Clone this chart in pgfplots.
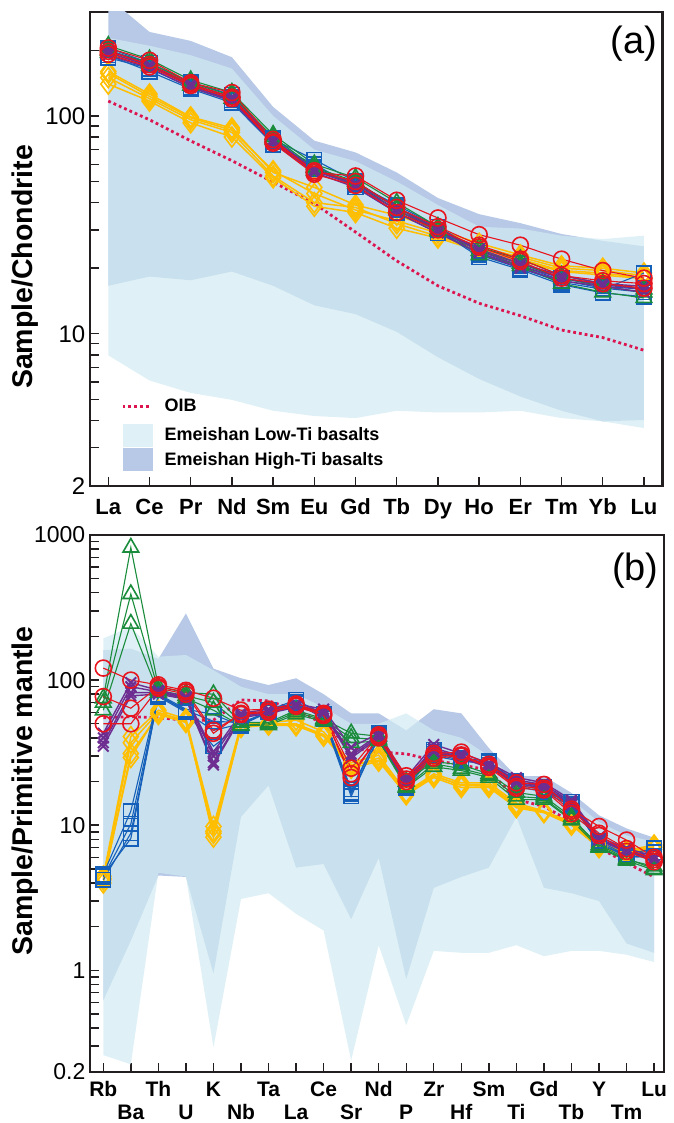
\documentclass[border=0pt]{standalone}
\usepackage{pgfplots}
\pgfplotsset{compat=1.18}
\usepackage{fontspec}
\setmainfont{Liberation Sans}
\definecolor{cblue}{RGB}{20,95,185}
\definecolor{cgreen}{RGB}{26,140,60}
\definecolor{cred}{RGB}{232,20,30}
\definecolor{cpurple}{RGB}{110,45,145}
\definecolor{cyellow}{RGB}{255,190,0}
\definecolor{coib}{RGB}{220,20,80}
\definecolor{hiTi}{RGB}{183,201,230}
\definecolor{loTi}{RGB}{209,235,242}
\definecolor{axcol}{RGB}{35,31,32}
\tikzset{
  sb/.style={cblue, mark=square, mark size=7.3pt, line width=1.1pt, mark options={solid, line width=1.6pt}},
  sg/.style={cgreen, mark=triangle, mark size=9pt, line width=1.1pt, mark options={solid, line width=1.6pt}},
  sr/.style={cred, mark=o, mark size=8pt, line width=1.1pt, mark options={solid, line width=1.6pt}},
  sp/.style={cpurple, mark=x, mark size=7.5pt, line width=1.4pt, mark options={solid, line width=2pt}},
  sy/.style={cyellow, mark=diamond, mark size=10pt, line width=1.5pt, mark options={solid, line width=1.6pt}},
  oibline/.style={coib, line width=2.8pt, dash pattern=on 2.8pt off 3pt, mark=none},
  hiT/.style={draw=none, fill=hiTi},
  loT/.style={draw=none, fill=loTi, fill opacity=0.7}
}
\begin{document}
\begin{tikzpicture}
\path[use as bounding box] (0pt,0pt) rectangle (673pt,-1123pt);
% ---------------- panel (a) ----------------
\begin{axis}[ymode=log, scale only axis, tick align=inside, xtick pos=bottom, ytick pos=left,
  axis line style={line width=2.2pt, axcol}, tick style={line width=1.4pt, axcol},
  major tick length=9pt, minor tick length=9pt,
  yticklabel style={font=\fontsize{24}{24}\selectfont, inner sep=0pt, xshift=-4.5pt},
  at={(90pt,-486pt)}, anchor=south west, width=572.5pt, height=474pt,
  xmin=-0.444, xmax=13.45, ymin=2, ymax=300,
  xtick={0,...,13}, xticklabels={La,Ce,Pr,Nd,Sm,Eu,Gd,Tb,Dy,Ho,Er,Tm,Yb,Lu},
  xticklabel style={font=\bfseries\fontsize{22}{22}\selectfont, inner sep=0pt, text height=15.8pt, text depth=0pt, anchor=north, yshift=-12pt},
  ytick={2,10,100}, yticklabels={2,10,100},
  minor ytick={3,4,5,6,7,8,9,20,30,40,50,60,70,80,90,200,300},
  legend style={at={(axis description cs:0.0541,0.2025)}, anchor=north west, draw=none, fill=none,
    inner sep=0pt, row sep=1.5pt, column sep=11.5pt, nodes={inner sep=0pt},
    font=\bfseries\fontsize{18}{18}\selectfont, cells={anchor=west}},
  legend cell align=left]
\addlegendimage{legend image code/.code={\draw[draw=coib, line width=2.8pt, dash pattern=on 2.8pt off 3pt] (0pt,0pt) -- (28pt,0pt); \path[draw=none, fill=none] (0pt,-16pt) rectangle (30.5pt,16pt);}}
\addlegendentry{OIB}
\addlegendimage{legend image code/.code={\path[draw=none, fill=loTi, fill opacity=0.7] (0pt,-11.5pt) rectangle (30.5pt,11.5pt);}}
\addlegendentry{Emeishan Low-Ti basalts}
\addlegendimage{legend image code/.code={\path[draw=none, fill=hiTi] (0pt,-11.5pt) rectangle (30.5pt,11.5pt);}}
\addlegendentry{Emeishan High-Ti basalts}
\addplot[hiT, forget plot] coordinates {(0,350) (1,243) (2,221) (3,186) (4,110) (5,77) (6,68) (7,55) (8,42) (9,35.4) (10,32.2) (11,28.7) (12,26.7) (13,25.2)
  (13,4.02) (12,3.96) (11,4.43) (10,5.15) (9,6.2) (8,7.8) (7,10.2) (6,12.3) (5,13.5) (4,16.6) (3,19.3) (2,17.6) (1,18.3) (0,16.6)};
\addplot[loT, forget plot] coordinates {(0,228) (1,210) (2,190) (3,165) (4,100) (5,70) (6,62) (7,50) (8,39) (9,31) (10,30.4) (11,28.2) (12,27.2) (13,28.2)
  (13,3.69) (12,3.96) (11,4.1) (10,4.43) (9,4.35) (8,4.35) (7,4.43) (6,4.1) (5,4.19) (4,4.43) (3,4.97) (2,5.35) (1,6.1) (0,7.96)};
\addplot[oibline, forget plot] coordinates {(0,117) (1,96) (2,76.8) (3,62.3) (4,49.7) (5,39.6) (6,29.3) (7,21.6) (8,16.6) (9,13.8) (10,12.1) (11,10.4) (12,9.6) (13,8.4)};
% yellow
\addplot[sy, forget plot] coordinates {(0,160) (1,126) (2,99) (3,88) (4,55) (5,47) (6,39) (7,35) (8,30) (9,26) (10,23) (11,20.5) (12,20) (13,19)};
\addplot[sy, forget plot] coordinates {(0,150) (1,120) (2,96) (3,84) (4,53) (5,40) (6,38) (7,32) (8,28) (9,24.5) (10,22) (11,19.5) (12,19) (13,18)};
\addplot[sy, forget plot] coordinates {(0,140) (1,117) (2,93) (3,80) (4,52) (5,38.5) (6,36) (7,30.5) (8,27.5) (9,24) (10,21.6) (11,19.3) (12,18.6) (13,17.9)};
\addplot[sy, forget plot] coordinates {(0,157) (1,123) (2,98) (3,86) (4,56) (5,44) (6,37) (7,33) (8,29) (9,25) (10,22.5) (11,20) (12,19.5) (13,18.5)};
% blue
\addplot[sb, forget plot] coordinates {(0,200) (1,172) (2,140) (3,122) (4,78) (5,63) (6,50) (7,38) (8,30) (9,22.5) (10,19.7) (11,16.8) (12,15.4) (13,14.8)};
\addplot[sb, forget plot] coordinates {(0,190) (1,160) (2,133) (3,115) (4,74) (5,60) (6,47) (7,36) (8,29) (9,23.5) (10,20.5) (11,17.6) (12,16.2) (13,15.5)};
\addplot[sb, forget plot] coordinates {(0,205) (1,175) (2,143) (3,125) (4,79) (5,57) (6,49) (7,39) (8,31) (9,24) (10,21) (11,18) (12,16.5) (13,16)};
\addplot[sb, forget plot] coordinates {(0,185) (1,165) (2,135) (3,118) (4,76) (5,58) (6,48) (7,37) (8,30) (9,23) (10,20) (11,17.2) (12,16) (13,19)};
% green
\addplot[sg, forget plot] coordinates {(0,210) (1,182) (2,146) (3,128) (4,82) (5,60) (6,52) (7,40) (8,31) (9,23) (10,20.5) (11,17) (12,15.5) (13,14.6)};
\addplot[sg, forget plot] coordinates {(0,200) (1,175) (2,142) (3,124) (4,80) (5,58) (6,50) (7,38) (8,30) (9,24) (10,21) (11,18) (12,16.5) (13,15.5)};
\addplot[sg, forget plot] coordinates {(0,195) (1,170) (2,138) (3,120) (4,78) (5,56) (6,49) (7,37) (8,29.5) (9,25) (10,22) (11,18.5) (12,17) (13,16)};
% purple
\addplot[sp, forget plot] coordinates {(0,200) (1,172) (2,140) (3,122) (4,78) (5,57) (6,49) (7,38) (8,30.5) (9,24.5) (10,21) (11,18.5) (12,17) (13,16.5)};
\addplot[sp, forget plot] coordinates {(0,195) (1,170) (2,137) (3,119) (4,76) (5,56) (6,48) (7,37) (8,30) (9,24) (10,20.5) (11,18) (12,16.8) (13,16)};
\addplot[sp, forget plot] coordinates {(0,190) (1,166) (2,135) (3,117) (4,75) (5,55) (6,47) (7,36) (8,29) (9,23.5) (10,20) (11,17.5) (12,16.5) (13,15.5)};
% red
\addplot[sr, forget plot] coordinates {(0,205) (1,180) (2,142) (3,128) (4,78) (5,55) (6,53) (7,41) (8,34) (9,28.5) (10,25.5) (11,22) (12,19.5) (13,18)};
\addplot[sr, forget plot] coordinates {(0,198) (1,172) (2,140) (3,122) (4,76) (5,56) (6,50) (7,38) (8,31) (9,25.5) (10,22) (11,18.5) (12,17.5) (13,17)};
\addplot[sr, forget plot] coordinates {(0,192) (1,168) (2,138) (3,120) (4,75) (5,54) (6,48) (7,36) (8,30) (9,25) (10,21.5) (11,18) (12,17) (13,16.2)};
\node[font=\fontsize{38}{38}\selectfont] at (axis description cs:0.950,0.9325) {(a)};
\end{axis}
% ---------------- panel (b) ----------------
\begin{axis}[ymode=log, scale only axis, tick align=inside, xtick pos=bottom, ytick pos=left,
  axis line style={line width=2.2pt, axcol}, tick style={line width=1.4pt, axcol},
  major tick length=9pt, minor tick length=9pt,
  yticklabel style={font=\fontsize{23}{23}\selectfont, inner sep=0pt, xshift=-4.5pt},
  at={(90pt,-1071.7pt)}, anchor=south west, width=574pt, height=536.7pt,
  xmin=-0.483, xmax=20.36, ymin=0.2, ymax=1000,
  xtick={0,2,...,20}, xticklabels={Rb,Th,K,Ta,Ce,Nd,Zr,Sm,Gd,Y,Lu},
  extra x ticks={1,3,...,19}, extra x tick labels={Ba,U,Nb,La,Sr,P,Hf,Ti,Tb,Tm},
  xticklabel style={font=\bfseries\fontsize{21}{21}\selectfont, inner sep=0pt, text height=15pt, text depth=0pt, anchor=north, yshift=-9.5pt},
  extra x tick style={xticklabel style={yshift=-23pt}},
  ytick={0.2,1,10,100,1000}, yticklabels={0.2,1,10,100,1000},
  minor ytick={0.3,0.4,0.5,0.6,0.7,0.8,0.9,2,3,4,5,6,7,8,9,20,30,40,50,60,70,80,90,200,300,400,500,600,700,800,900}]
\addplot[hiT, forget plot] coordinates {(0,161) (1,165) (2,140) (3,288) (4,120) (5,103) (6,92.5) (7,103) (8,80) (9,59) (10,59) (11,45) (12,63) (13,59) (14,34) (15,21.8) (16,21.8) (17,16.7) (18,11.7) (19,9.5) (20,8.2)
  (20,1.32) (19,1.53) (18,3.0) (17,3.4) (16,3.7) (15,11.4) (14,5.1) (13,4.4) (12,3.7) (11,0.87) (10,5.95) (9,2.25) (8,5.4) (7,5.1) (6,18.8) (5,11.4) (4,0.95) (3,4.4) (2,4.5) (1,1.6) (0,0.62)};
\addplot[loT, forget plot] coordinates {(0,194) (1,233) (2,145) (3,149) (4,117) (5,90) (6,80) (7,80) (8,65) (9,50) (10,50) (11,59) (12,45) (13,40) (14,30) (15,20) (16,19) (17,15) (18,10.5) (19,8.5) (20,7.7)
  (20,1.14) (19,1.28) (18,1.36) (17,1.36) (16,1.25) (15,1.49) (14,1.32) (13,1.32) (12,1.36) (11,0.418) (10,1.49) (9,0.239) (8,1.88) (7,2.45) (6,3.4) (5,3.1) (4,0.294) (3,4.43) (2,4.7) (1,0.225) (0,0.26)};
\addplot[oibline, forget plot] coordinates {(0,55) (1,56) (2,55) (3,53) (4,53) (5,73) (6,72) (7,62) (8,50) (9,34) (10,32) (11,31) (12,28) (13,26) (14,24) (15,15) (16,13.5) (17,10.5) (18,7) (19,5.5) (20,4.4)};
% yellow
\addplot[sy, forget plot] coordinates {(0,4.45) (1,40.8) (2,62) (3,54) (4,9.8) (5,49.6) (6,51) (7,53) (8,44) (9,26.9) (10,30.4) (11,16.9) (12,22.6) (13,19.6) (14,19.6) (15,14.2) (16,12.5) (17,10.5) (18,7.3) (19,6.7) (20,7.3)};
\addplot[sy, forget plot] coordinates {(0,4.3) (1,37) (2,60) (3,52) (4,9.1) (5,48) (6,50) (7,50) (8,42) (9,25.5) (10,29) (11,16.5) (12,21.8) (13,19) (14,19) (15,13.8) (16,12.3) (17,10.2) (18,7.2) (19,6.5) (20,7.0)};
\addplot[sy, forget plot] coordinates {(0,4.0) (1,31.2) (2,58) (3,51) (4,8.8) (5,47.2) (6,49) (7,48.5) (8,41) (9,24.7) (10,27.6) (11,16.2) (12,21.3) (13,18.2) (14,18.2) (15,13.2) (16,12.2) (17,10) (18,7.0) (19,6.4) (20,6.8)};
\addplot[sy, forget plot] coordinates {(0,4.2) (1,29.3) (2,59) (3,53) (4,8.27) (5,47.5) (6,49.5) (7,49) (8,42) (9,26) (10,28) (11,16.7) (12,22) (13,18.8) (14,18.6) (15,13.5) (16,12.4) (17,10.3) (18,7.1) (19,6.6) (20,7.1)};
% blue
\addplot[sb, forget plot] coordinates {(0,4.6) (1,12.5) (2,80) (3,63) (4,58) (5,48.5) (6,62) (7,73) (8,58) (9,16.9) (10,43) (11,19.5) (12,33) (13,29) (14,27.6) (15,20) (16,18.2) (17,14.5) (18,7.3) (19,6.3) (20,6.9)};
\addplot[sb, forget plot] coordinates {(0,4.4) (1,10.2) (2,78) (3,62) (4,52) (5,51) (6,60) (7,70) (8,56) (9,17.7) (10,42) (11,18.2) (12,30) (13,27.6) (14,26.9) (15,19) (16,17.5) (17,13.8) (18,7.6) (19,6.0) (20,6.15)};
\addplot[sb, forget plot] coordinates {(0,4.2) (1,8.8) (2,77) (3,60) (4,45) (5,50) (6,61) (7,71) (8,54) (9,15.8) (10,41) (11,19) (12,31) (13,28) (14,26) (15,18.5) (16,17) (17,13.5) (18,7.8) (19,6.2) (20,6.5)};
\addplot[sb, forget plot] coordinates {(0,4.5) (1,8.1) (2,79) (3,61) (4,35) (5,49) (6,60) (7,69) (8,55) (9,16.5) (10,40) (11,18.7) (12,32) (13,28.5) (14,27) (15,19.5) (16,17.8) (17,14) (18,7.5) (19,6.1) (20,6.0)};
% green
\addplot[sg, forget plot] coordinates {(0,75) (1,820) (2,90) (3,82) (4,80) (5,51) (6,51) (7,62) (8,54) (9,43) (10,41) (11,20) (12,27.5) (13,26) (14,22.6) (15,16.8) (16,15.8) (17,11.4) (18,7.1) (19,5.8) (20,5.2)};
\addplot[sg, forget plot] coordinates {(0,70) (1,392) (2,85) (3,78) (4,70) (5,49) (6,50) (7,60) (8,53) (9,40) (10,39) (11,18.5) (12,26.5) (13,24.5) (14,22) (15,15.8) (16,15.3) (17,11) (18,7.3) (19,5.9) (20,5.0)};
\addplot[sg, forget plot] coordinates {(0,62) (1,245) (2,82) (3,75) (4,62) (5,48.5) (6,49) (7,58) (8,52) (9,37) (10,38) (11,18.2) (12,25.3) (13,23.8) (14,21.3) (15,15) (16,15) (17,10.8) (18,7.0) (19,5.7) (20,4.9)};
% purple
\addplot[sp, forget plot] coordinates {(0,43) (1,96) (2,85) (3,77) (4,32) (5,59) (6,63) (7,68.5) (8,63) (9,34.4) (10,43) (11,21.3) (12,36) (13,31.2) (14,26.9) (15,21.3) (16,19.6) (17,14.9) (18,8.3) (19,6.9) (20,6.15)};
\addplot[sp, forget plot] coordinates {(0,40) (1,90) (2,83) (3,76) (4,30) (5,57) (6,61) (7,67) (8,61) (9,31) (10,42) (11,20.5) (12,34) (13,30) (14,26) (15,20.5) (16,19) (17,14.5) (18,8.1) (19,6.7) (20,6.0)};
\addplot[sp, forget plot] coordinates {(0,37) (1,82) (2,82) (3,75) (4,27) (5,56) (6,60) (7,66) (8,60) (9,30) (10,41) (11,20) (12,33) (13,29.5) (14,25.5) (15,20) (16,18.5) (17,14) (18,8.0) (19,6.6) (20,5.9)};
\addplot[sp, forget plot] coordinates {(0,35) (1,78) (2,80) (3,74) (4,26) (5,55) (6,59) (7,65) (8,59) (9,29) (10,40) (11,19.5) (12,32) (13,29) (14,25) (15,19.5) (16,18) (17,13.8) (18,7.9) (19,6.5) (20,5.8)};
% red
\addplot[sr, forget plot] coordinates {(0,121) (1,100) (2,92.7) (3,85) (4,75) (5,62) (6,63) (7,68.5) (8,59) (9,24.7) (10,42) (11,21.9) (12,31.2) (13,31.9) (14,26.3) (15,19.6) (16,19.1) (17,12.9) (18,9.8) (19,7.9) (20,6.0)};
\addplot[sr, forget plot] coordinates {(0,77) (1,64) (2,90) (3,83) (4,45) (5,58) (6,60) (7,66) (8,57) (9,22.6) (10,40) (11,20.8) (12,30) (13,30.5) (14,25.5) (15,18.5) (16,18) (17,12.5) (18,8.8) (19,6.9) (20,5.8)};
\addplot[sr, forget plot] coordinates {(0,50) (1,50) (2,88) (3,80) (4,43) (5,59) (6,61) (7,67) (8,58) (9,21.3) (10,41) (11,20) (12,29) (13,30) (14,25) (15,18) (16,17.5) (17,12) (18,8.5) (19,6.6) (20,5.6)};
\node[font=\fontsize{38}{38}\selectfont] at (axis description cs:0.950,0.933) {(b)};
\end{axis}
\node[rotate=90, anchor=base, font=\bfseries\fontsize{28.5}{28.5}\selectfont] at (32pt,-267pt) {Sample/Chondrite};
\node[rotate=90, anchor=base, font=\bfseries\fontsize{28.5}{28.5}\selectfont] at (32pt,-791pt) {Sample/Primitive mantle};
\end{tikzpicture}
\end{document}
